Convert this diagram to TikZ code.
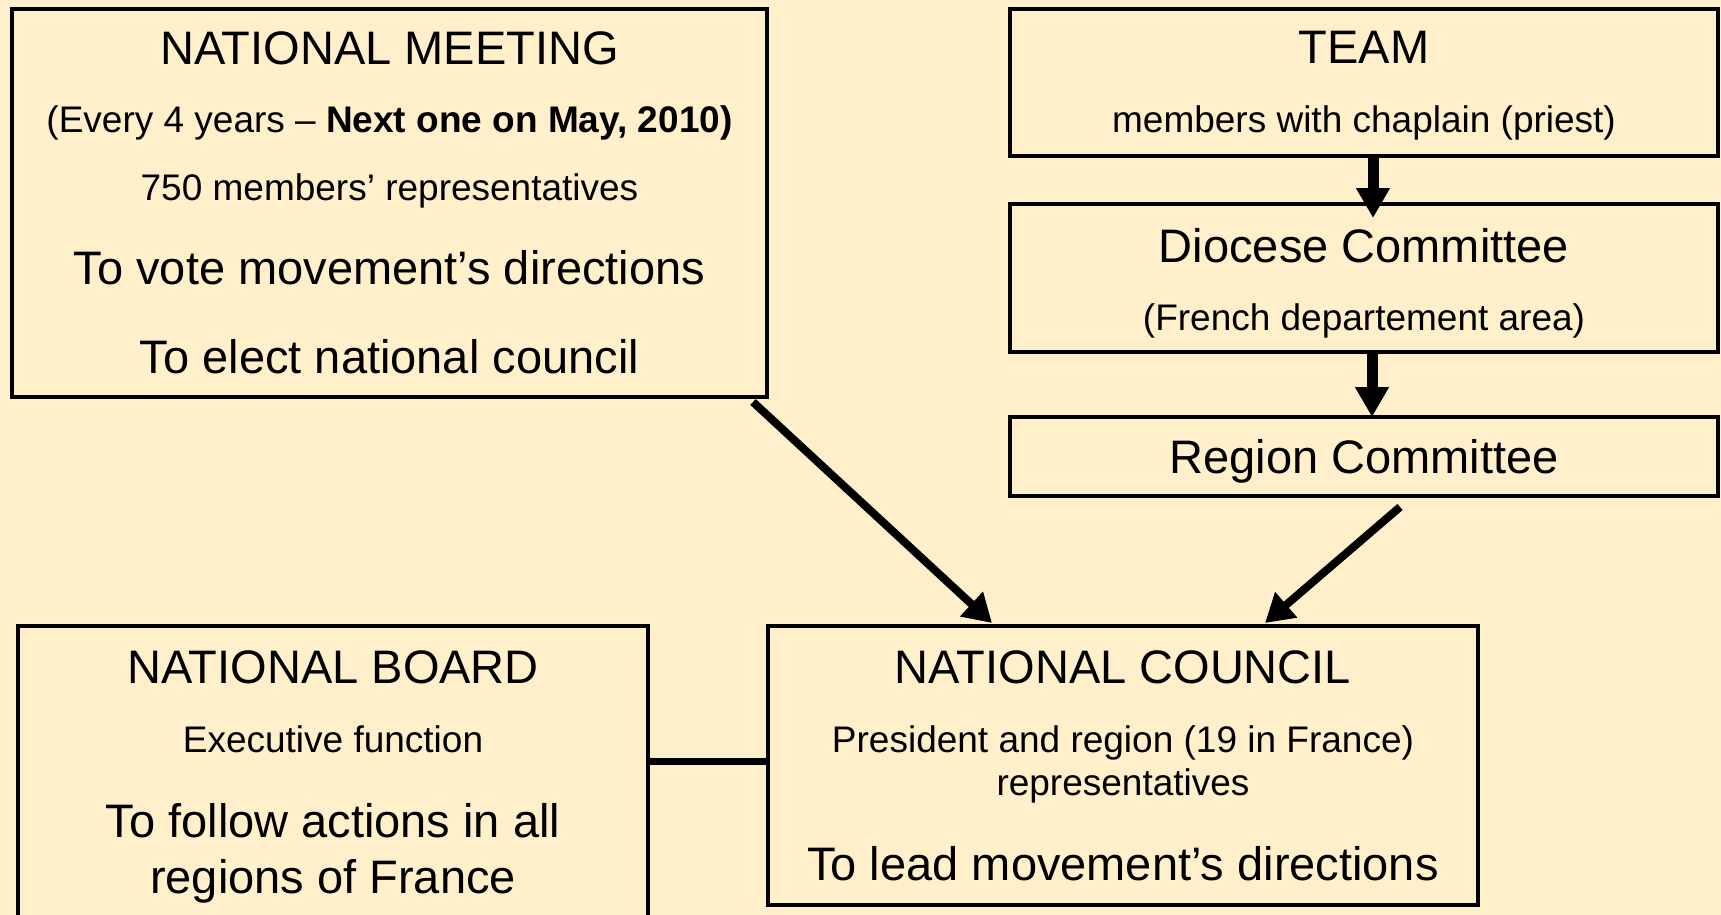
\documentclass[tikz,border=0pt]{standalone}
\usepackage{fontspec}
\setmainfont{Liberation Sans}
\usetikzlibrary{arrows.meta,calc}
\definecolor{bgc}{HTML}{FFF0CB}
\begin{document}
\begin{tikzpicture}[x=1pt,y=-1pt,
  boxnode/.style={draw=black,line width=4pt,fill=bgc,rectangle,inner sep=0pt,outer sep=0pt},
  bigtxt/.style={anchor=base,inner sep=0pt,font=\fontsize{47}{56}\selectfont},
  smalltxt/.style={anchor=base,inner sep=0pt,font=\fontsize{37}{44}\selectfont},
  vlink/.style={line width=11pt,-{Triangle[length=30pt,width=32pt]}},
  dlink/.style={line width=8pt,-{Triangle[length=28pt,width=32pt]}},
  hlink/.style={line width=7pt}]
\path[use as bounding box, fill=bgc] (0,0) rectangle (1721,915);
\clip (0,0) rectangle (1721,915);
% boxes
\node[boxnode,minimum width=755pt,minimum height=388pt] (nm) at (389.5,203) {};
\node[boxnode,minimum width=708pt,minimum height=147pt] (team) at (1364,82.5) {};
\node[boxnode,minimum width=708pt,minimum height=148pt] (dio) at (1364,278) {};
\node[boxnode,minimum width=708pt,minimum height=79pt] (reg) at (1364,456.5) {};
\node[boxnode,minimum width=630pt,minimum height=299pt] (nb) at (333,775.5) {};
\node[boxnode,minimum width=710pt,minimum height=279pt] (nc) at (1123,765.5) {};
% texts
\node[bigtxt] (nm1) at (389.5,65) {NATIONAL MEETING};
\node[smalltxt] (nm2) at (389.5,132) {(Every 4 years – \textbf{Next one on May, 2010)}};
\node[smalltxt] (nm3) at (389.5,200) {750 members’ representatives};
\node[bigtxt] (nm4) at (389.5,284) {To vote movement’s directions};
\node[bigtxt] (nm5) at (389.5,373) {To elect national council};
\node[bigtxt] (team1) at (1364,64) {TEAM};
\node[smalltxt] (team2) at (1364,133) {members with chaplain (priest)};
\node[bigtxt] (dio1) at (1364,262) {Diocese Committee};
\node[smalltxt] (dio2) at (1364,330) {(French departement area)};
\node[bigtxt] (reg1) at (1364,473) {Region Committee};
\node[bigtxt] (nb1) at (333,683) {NATIONAL BOARD};
\node[smalltxt] (nb2) at (333,752) {Executive function};
\node[bigtxt] (nb3) at (333,837) {To follow actions in all};
\node[bigtxt] (nb4) at (333,893) {regions of France};
\node[bigtxt] (nc1) at (1123,683) {NATIONAL COUNCIL};
\node[smalltxt] (nc2) at (1123,752) {President and region (19 in France)};
\node[smalltxt] (nc3) at (1123,795) {representatives};
\node[bigtxt] (nc4) at (1123,880) {To lead movement’s directions};
% connectors
\draw[vlink] ([xshift=9pt]team.south) -- ([xshift=9pt,yshift=-14pt]dio.north);
\draw[vlink] ([xshift=8pt]dio.south) -- ([xshift=8pt]reg.north);
\draw[dlink] ([shift={(-14,5)}]nm.south east) -- ([shift={(224,-3)}]nc.north west);
\draw[dlink] ([shift={(36,11)}]reg.south) -- ([shift={(142,-3)}]nc.north);
\draw[hlink] ([yshift=4.5pt]nc.west) -- ([yshift=4.5pt]nc.west -| nb.east);
\end{tikzpicture}
\end{document}
